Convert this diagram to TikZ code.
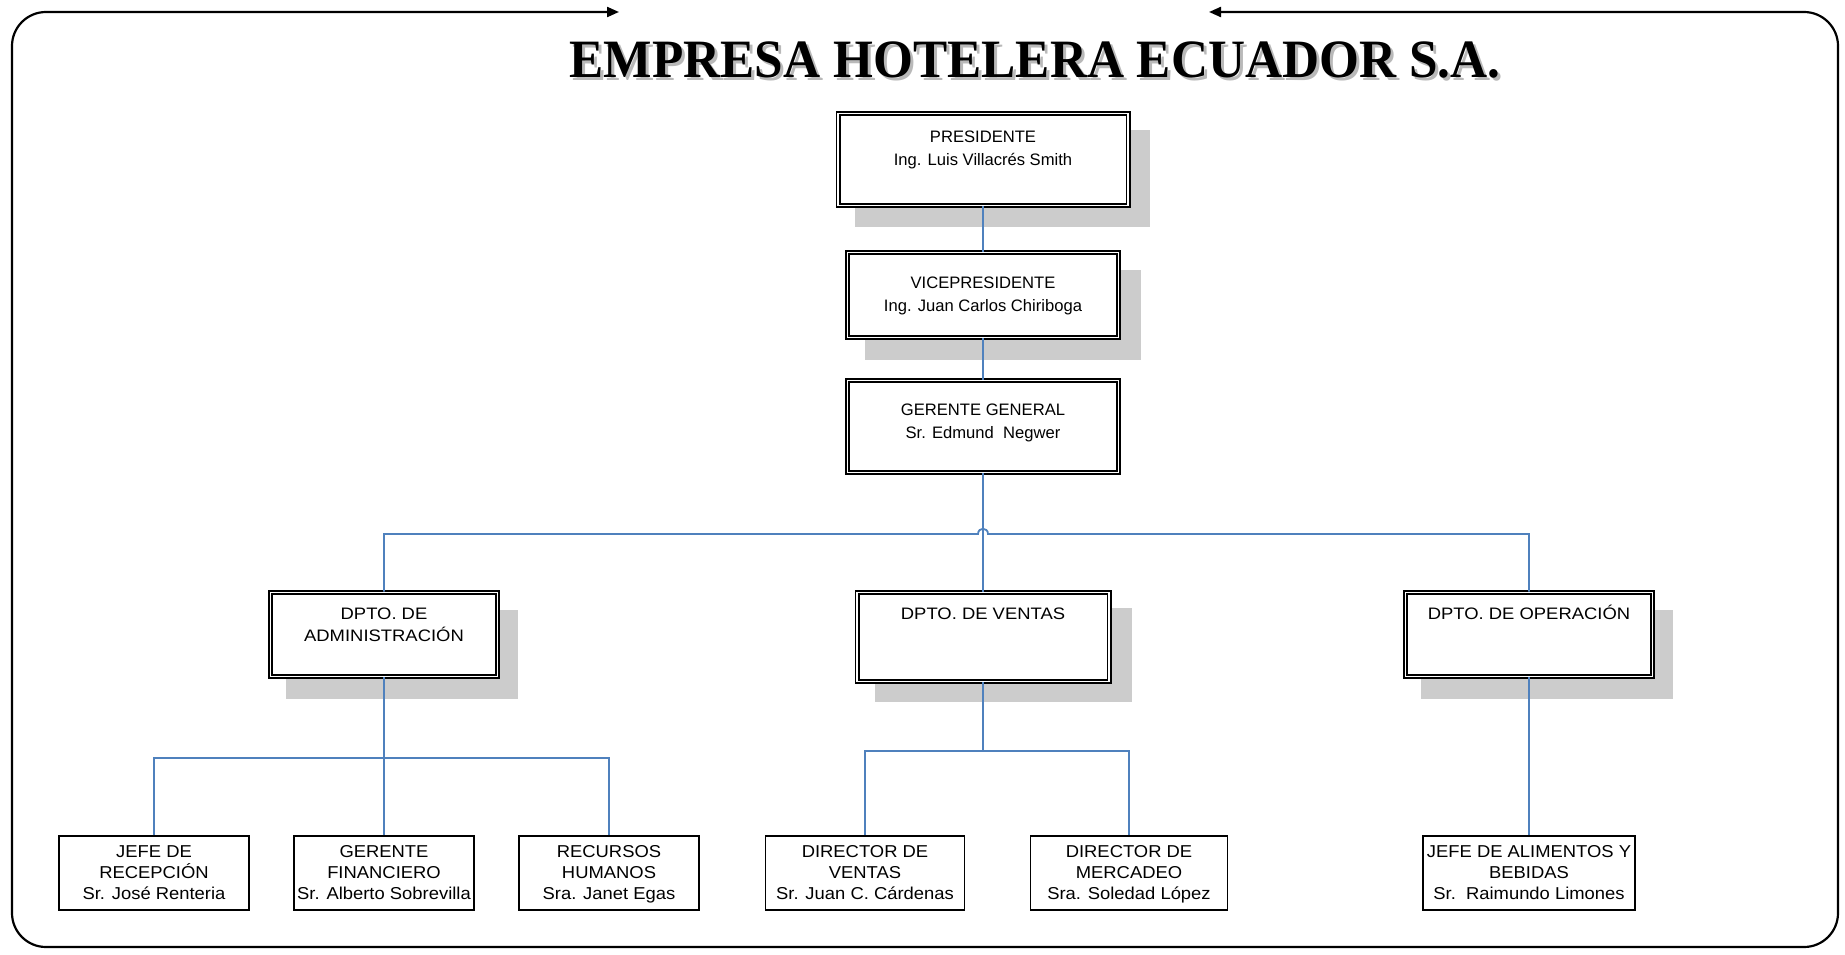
\documentclass[tikz,border=0pt]{standalone}
\usepackage{fontspec}
\setmainfont{Liberation Sans}
\newfontfamily\titlefont{Liberation Serif}
\usetikzlibrary{arrows.meta}
\definecolor{connblue}{HTML}{4F81BD}
\definecolor{shadowgray}{HTML}{CCCCCC}
\newcommand{\widetxt}[1]{\scalebox{1.11}[1]{#1}}
\newcommand{\widebot}[1]{\scalebox{1.07}[1]{#1}}
\tikzset{
  dblbox/.style={draw=black, double=white, double distance=1.8pt, line width=1.6pt, fill=white, inner sep=0pt},
  sglbox/.style={draw=black, line width=1.6pt, fill=white, inner sep=0pt},
  shadowbox/.style={fill=shadowgray, draw=none, inner sep=0pt},
  conn/.style={draw=connblue, line width=1.8pt},
  lbl/.style={align=center, anchor=north, inner sep=0pt},
  toplbl/.style={lbl, font=\fontsize{16.6}{23}\selectfont},
  deptlbl/.style={lbl, font=\fontsize{16.6}{22.5}\selectfont},
  botlbl/.style={lbl, font=\fontsize{17.2}{21}\selectfont},
  frame/.style={draw=black, line width=2.2pt, rounded corners=34pt, {Triangle[length=12pt,width=10pt]}-{Triangle[length=12pt,width=10pt]}},
  titletext/.style={font=\titlefont\bfseries\fontsize{54}{54}\selectfont, anchor=base, inner sep=0pt}
}
\begin{document}
\begin{tikzpicture}[x=1pt,y=-1pt]
\useasboundingbox (0,0) rectangle (1845,955);

% outer frame with arrows
\draw[frame] (619,12) -- (12,12) -- (12,947) -- (1838,947) -- (1838,12) -- (1209,12);

% title
\node[titletext, text=gray!55] (titleshadow) at (1038,81) {\scalebox{0.95}[1]{EMPRESA HOTELERA ECUADOR S.A.}};
\node[titletext] (title) at (1035,78) {\scalebox{0.95}[1]{EMPRESA HOTELERA ECUADOR S.A.}};

% shadows
\node[shadowbox, minimum width=295pt, minimum height=97pt] (presS) at (1002,178.5) {};
\node[shadowbox, minimum width=276pt, minimum height=90pt] (vpS) at (1003,315) {};
\node[shadowbox, minimum width=232pt, minimum height=89pt] (admS) at (402,654.5) {};
\node[shadowbox, minimum width=257pt, minimum height=94pt] (ventS) at (1003,655) {};
\node[shadowbox, minimum width=252pt, minimum height=89pt] (operS) at (1547,654.5) {};

% double boxes
\node[dblbox, minimum width=290pt, minimum height=92pt] (pres) at (983,159.5) {};
\node[dblbox, minimum width=271pt, minimum height=85pt] (vp) at (983,295) {};
\node[dblbox, minimum width=271pt, minimum height=92pt] (gg) at (983,426.5) {};
\node[dblbox, minimum width=227pt, minimum height=84pt] (adm) at (384,634.5) {};
\node[dblbox, minimum width=252pt, minimum height=89pt] (vent) at (983,637) {};
\node[dblbox, minimum width=247pt, minimum height=84pt] (oper) at (1529,634.5) {};

% single boxes
\node[sglbox, minimum width=190pt, minimum height=74pt] (jr) at (154,873) {};
\node[sglbox, minimum width=180pt, minimum height=74pt] (gf) at (384,873) {};
\node[sglbox, minimum width=180pt, minimum height=74pt] (rh) at (609,873) {};
\node[sglbox, minimum width=199pt, minimum height=74pt] (dv) at (865,873) {};
\node[sglbox, minimum width=197pt, minimum height=74pt] (dm) at (1129,873) {};
\node[sglbox, minimum width=212pt, minimum height=74pt] (ja) at (1529,873) {};

% labels
\node[toplbl] (presT) at (983,130.5) {PRESIDENTE\\Ing. Luis Villacrés Smith};
\node[toplbl] (vpT) at (983,277) {VICEPRESIDENTE\\Ing. Juan Carlos Chiriboga};
\node[toplbl] (ggT) at (983,404) {GERENTE GENERAL\\ Sr. Edmund\ \ Negwer};
\node[deptlbl] (admT) at (384,607.5) {\widetxt{DPTO. DE}\\\widetxt{ADMINISTRACIÓN}};
\node[deptlbl] (ventT) at (983,608) {\widetxt{DPTO. DE VENTAS}};
\node[deptlbl] (operT) at (1529,604.6) {\widetxt{DPTO. DE OPERACIÓN}};
\node[botlbl] (jrT) at (154,845) {\widebot{JEFE DE}\\\widebot{RECEPCIÓN}\\\widebot{Sr. José Renteria}};
\node[botlbl] (gfT) at (384,845) {\widebot{GERENTE}\\\widebot{FINANCIERO}\\\widebot{Sr. Alberto Sobrevilla}};
\node[botlbl] (rhT) at (609,845) {\widebot{RECURSOS}\\\widebot{HUMANOS}\\\widebot{Sra. Janet Egas}};
\node[botlbl] (dvT) at (865,845) {\widebot{DIRECTOR DE}\\\widebot{VENTAS}\\\widebot{Sr. Juan C. Cárdenas}};
\node[botlbl] (dmT) at (1129,845) {\widebot{DIRECTOR DE}\\\widebot{MERCADEO}\\\widebot{Sra. Soledad López}};
\node[botlbl] (jaT) at (1529,845) {\widebot{JEFE DE ALIMENTOS Y}\\\widebot{BEBIDAS}\\\widebot{Sr.\ \ Raimundo Limones}};

% junction coordinates
\coordinate (jL) at (978,534);
\coordinate (jR) at (988,534);
\coordinate (b1) at (384,758);
\coordinate (b2) at (983,751);

% connectors
\draw[conn] (pres.south) -- (vp.north);
\draw[conn] (vp.south) -- (gg.north);
\draw[conn] (gg.south) -- (vent.north);
\draw[conn] (adm.north) |- (jL) .. controls +(0,-7) and +(0,-7) .. (jR) -| (oper.north);
\draw[conn] (adm.south) -- (gf.north);
\draw[conn] (jr.north) |- (b1) -| (rh.north);
\draw[conn] (vent.south) -- (b2);
\draw[conn] (dv.north) |- (b2) -| (dm.north);
\draw[conn] (oper.south) -- (ja.north);
\end{tikzpicture}
\end{document}
